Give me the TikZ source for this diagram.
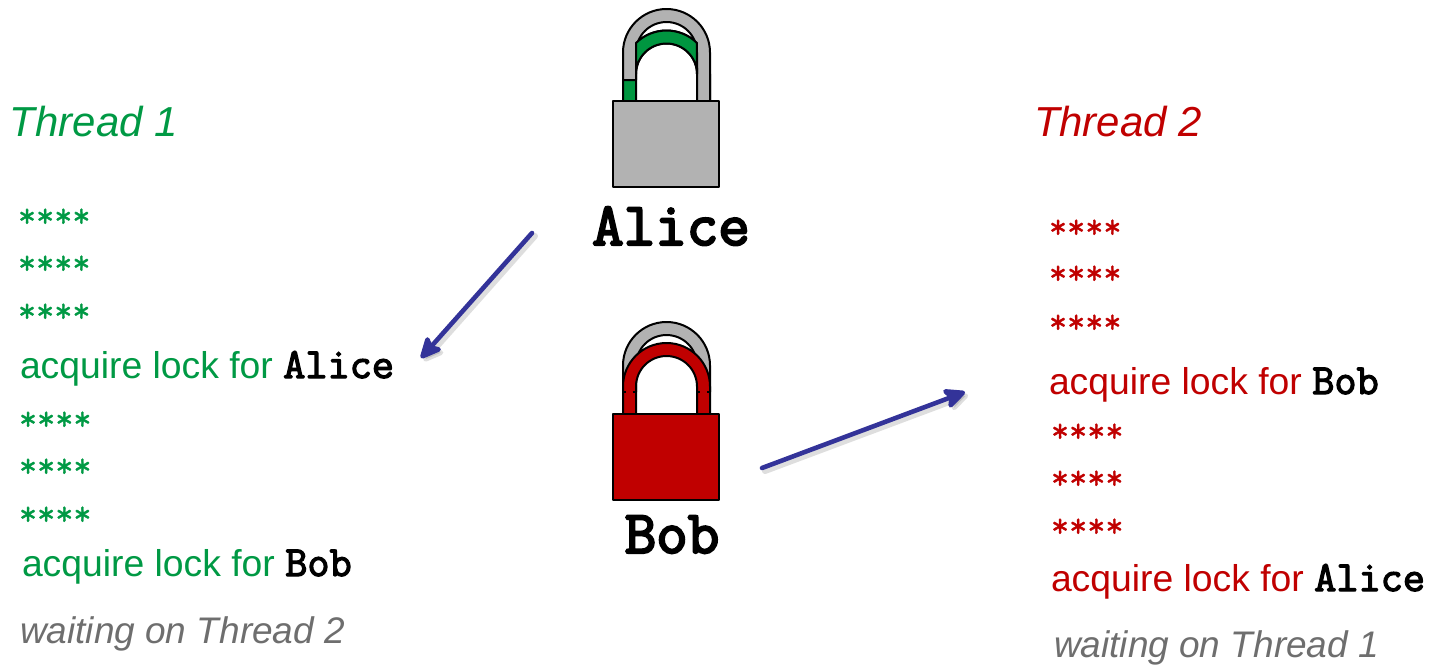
\documentclass[tikz,border=0pt]{standalone}
\usepackage{fontspec}
\setmainfont{Liberation Sans}
\newfontfamily\courbold[FakeBold=3.6]{Latin Modern Mono}
\newfontfamily\courname[FakeBold=3]{Latin Modern Mono}
\newfontfamily\courstar[FakeBold=1]{Latin Modern Mono}
\usetikzlibrary{arrows.meta}
\definecolor{tgreen}{RGB}{0,153,68}
\definecolor{lockgreen}{RGB}{0,150,64}
\definecolor{tred}{RGB}{192,0,0}
\definecolor{lockgrey}{RGB}{178,178,178}
\definecolor{wgrey}{RGB}{110,110,110}
\definecolor{navy}{RGB}{51,51,153}
\tikzset{
  txt/.style={anchor=base west,inner sep=0pt,outer sep=0pt},
  head/.style={txt,font=\fontsize{20.95}{24}\selectfont\itshape},
  acq/.style={txt,font=\fontsize{18.65}{22}\selectfont},
  wait/.style={txt,text=wgrey,font=\fontsize{18.5}{22}\selectfont\itshape},
  stars/.style={txt,font=\fontsize{17.6}{18}\selectfont\courstar},
  lockname/.style={anchor=base,inner sep=0pt,font=\fontsize{30.6}{32}\selectfont\courbold},
  lockline/.style={draw=black,line width=1pt,line join=round},
  conn/.style={draw=navy,line width=2.3pt,line cap=round,-{Stealth[length=13pt,width=12pt,inset=3pt,round]}},
  connshadow/.style={draw=black,opacity=0.13,line width=3pt,line cap=round,-{Stealth[length=13pt,width=12pt,inset=3pt,round]}},
}
\newcommand{\nm}[1]{{\fontsize{21.5}{22}\selectfont\courname\textcolor{black}{#1}}}
\begin{document}
\begin{tikzpicture}[x=0.5pt,y=-0.5pt]
\useasboundingbox (0,0) rectangle (1437,666);
% Alice lock
\path[lockline,fill=lockgreen] (623,101) -- (623,74) arc[start angle=180,end angle=0,radius=21.75pt] -- (710,101) -- (697,101) -- (697,74) arc[start angle=0,end angle=180,radius=15.25pt] -- (636,101) -- cycle;
\path[lockline,fill=lockgrey] (623,80) -- (623,52.5) arc[start angle=180,end angle=0,radius=21.75pt] -- (710,101) -- (697,101) -- (697,52.5) arc[start angle=0,end angle=180,radius=15.25pt] -- (636,80) -- cycle;
\path[lockline,fill=lockgreen] (636,43) arc[start angle=134.5,end angle=45.5,radius=21.75pt] -- (697,74) arc[start angle=0,end angle=180,radius=15.25pt] -- cycle;
\path[lockline,fill=lockgrey] (613,101) rectangle (719,187);
\node[lockname] (alice) at (671,245) {Alice};
% Bob lock
\path[lockline,fill=lockgrey] (623,392) -- (623,365.5) arc[start angle=180,end angle=0,radius=21.75pt] -- (710,392) -- (697,392) -- (697,365.5) arc[start angle=0,end angle=180,radius=15.25pt] -- (636,392) -- cycle;
\path[lockline,fill=tred] (623,414) -- (623,386.5) arc[start angle=180,end angle=0,radius=21.75pt] -- (710,414) -- (697,414) -- (697,386.5) arc[start angle=0,end angle=180,radius=15.25pt] -- (636,414) -- cycle;
\draw[line width=0.8pt] (623,392) -- (626,392) (633,392) -- (636,392) (697,392) -- (700,392) (707,392) -- (710,392);
\path[lockline,fill=tred] (613,414) rectangle (719,500);
\node[lockname] (bob) at (672,553) {Bob};
% Left column
\node[head,text=tgreen] (t1) at (10,136) {Thread 1};
\node[stars,text=tgreen] (s1) at (18,227) {****};
\node[stars,text=tgreen] (s2) at (18,274) {****};
\node[stars,text=tgreen] (s3) at (18,322) {****};
\node[acq,text=tgreen] (a1) at (20,378) {acquire lock for \nm{Alice}};
\node[stars,text=tgreen] (s4) at (19,430) {****};
\node[stars,text=tgreen] (s5) at (19,477) {****};
\node[stars,text=tgreen] (s6) at (19,525) {****};
\node[acq,text=tgreen] (a2) at (22,576) {acquire lock for \nm{Bob}};
\node[wait] (w1) at (20,643) {waiting on Thread 2};
% Right column
\node[head,text=tred] (t2) at (1034,136) {Thread 2};
\node[stars,text=tred] (r1) at (1049,238) {****};
\node[stars,text=tred] (r2) at (1049,284) {****};
\node[stars,text=tred] (r3) at (1049,333) {****};
\node[acq,text=tred] (b1) at (1049,394) {acquire lock for \nm{Bob}};
\node[stars,text=tred] (r4) at (1051,442) {****};
\node[stars,text=tred] (r5) at (1051,489) {****};
\node[stars,text=tred] (r6) at (1051,537) {****};
\node[acq,text=tred] (b2) at (1051,591) {acquire lock for \nm{Alice}};
\node[wait] (w2) at (1054,657) {waiting on Thread 1};
% Connectors
\coordinate (c1s) at (532,233);
\coordinate (c1e) at (421,358);
\coordinate (c2s) at (762,468);
\coordinate (c2e) at (965,392);
\coordinate (c1ss) at (535,236);
\coordinate (c1es) at (424,361);
\coordinate (c2ss) at (765,471);
\coordinate (c2es) at (968,395);
\draw[connshadow] (c1ss) -- (c1es);
\draw[connshadow] (c2ss) -- (c2es);
\draw[conn] (c1s) -- (c1e);
\draw[conn] (c2s) -- (c2e);
\end{tikzpicture}
\end{document}
